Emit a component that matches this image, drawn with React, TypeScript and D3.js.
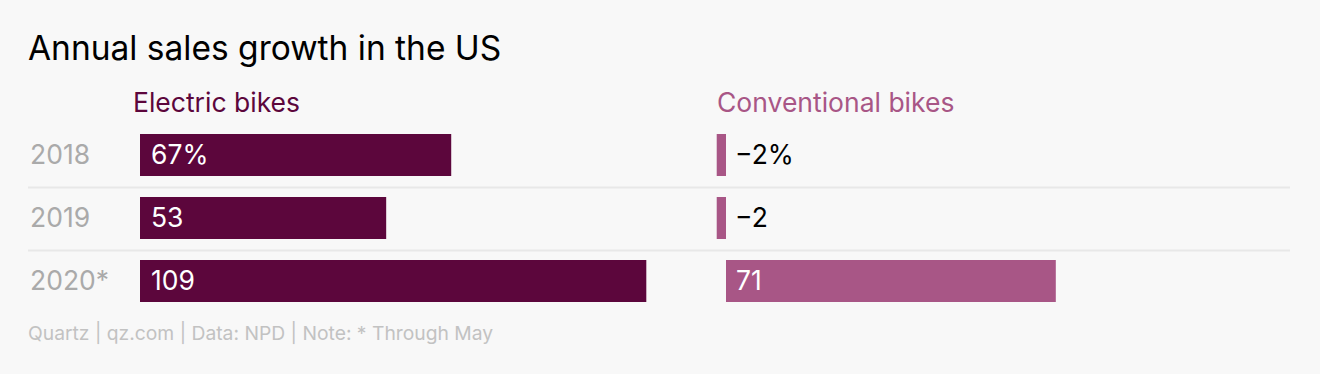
import React from "react";
import * as d3 from "d3";

const years = ["2018", "2019", "2020*"];
const electricValues = [67, 53, 109];
const conventionalValues = [-2, -2, 71];
const electricLabels = ["67%", "53", "109"];
const conventionalLabels = ["\u22122%", "\u22122", "71"];

const W = 1320;
const H = 374;
const FONT = "Inter, 'Noto Sans', sans-serif";
const ELEC = "#5c063c";
const CONV = "#a85686";

export default function App() {
  // 42px bars on a 63px step
  const yBand = d3
    .scaleBand<string>()
    .domain(years)
    .range([134 - 10.5, 134 - 10.5 + 63 * 3])
    .paddingInner(21 / 63)
    .paddingOuter(21 / 63 / 2);
  const scale = 4.645;
  const xE = d3.scaleLinear().domain([0, 120]).range([140, 140 + 120 * scale]);
  const xC = d3.scaleLinear().domain([-2, 120]).range([726 - 2 * scale, 726 + 120 * scale]);

  return (
    <svg width={W} height={H} style={{ position: "absolute", left: 0, top: 0, background: "#f8f8f8" }} fontFamily={FONT}>
      <rect x={0} y={0} width={W} height={H} fill="#f8f8f8" />
      <text x={28} y={60} fontSize={33.5} fill="#000">Annual sales growth in the US</text>
      <text x={133} y={112} fontSize={26.5} fill={ELEC}>Electric bikes</text>
      <text x={717} y={112} fontSize={26.5} fill={CONV}>Conventional bikes</text>
      {years.slice(0, -1).map((yr) => {
        const lineY = Math.round((yBand(yr) as number) + yBand.bandwidth() + (yBand.step() - yBand.bandwidth()) / 2) + 0.5;
        return <line key={yr} x1={28} x2={1290} y1={lineY} y2={lineY} stroke="#e8e8e8" strokeWidth={2} />;
      })}
      {years.map((yr, i) => {
        const by = yBand(yr) as number;
        const bh = yBand.bandwidth();
        const cy = by + bh / 2;
        const ev = electricValues[i];
        const cv = conventionalValues[i];
        const cx0 = xC(Math.min(0, cv));
        const cx1 = xC(Math.max(0, cv));
        const neg = cv < 0;
        return (
          <g key={yr}>
            <text x={30} y={cy + 9} fontSize={26.5} fill="#aaaaaa">{yr}</text>
            <rect x={xE(0)} y={by} width={xE(ev) - xE(0)} height={bh} fill={ELEC} />
            <text x={xE(0) + 11} y={cy + 9} fontSize={26.5} fill="#fff">{electricLabels[i]}</text>
            <rect x={cx0} y={by} width={cx1 - cx0} height={bh} fill={CONV} />
            <text x={neg ? xC(0) + 9 : xC(0) + 10} y={cy + 9} fontSize={26.5} fill={neg ? "#000" : "#fff"}>{conventionalLabels[i]}</text>
          </g>
        );
      })}
      <text x={28} y={340} fontSize={19.3} fill="#c2c2c2">Quartz | qz.com | Data: NPD | Note: * Through May</text>
    </svg>
  );
}
